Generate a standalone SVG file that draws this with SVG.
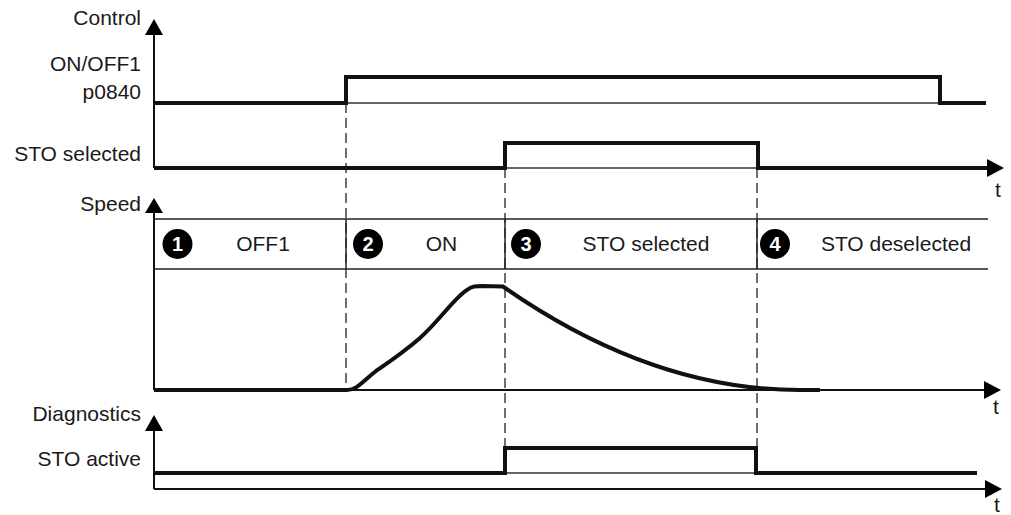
<svg xmlns="http://www.w3.org/2000/svg" width="1011" height="515" viewBox="0 0 1011 515">
<defs>
<style>
text{font-family:"Liberation Sans",Arial,sans-serif;font-size:21px;fill:#1a1a1a}
.lbl{text-anchor:end}
.mid{text-anchor:middle}
.num{font-weight:bold;fill:#fff;font-size:20px;text-anchor:middle}
.sig{fill:none;stroke:#111;stroke-width:4;stroke-linejoin:miter}
.axis{fill:none;stroke:#111;stroke-width:2}
.thin{fill:none;stroke:#333;stroke-width:1.5}
.dash{fill:none;stroke:#222;stroke-width:1.3;stroke-dasharray:10 5}
.band{fill:none;stroke:#222;stroke-width:1.5}
.arr{fill:#000}
</style>
</defs>
<rect width="1011" height="515" fill="#fff"/>
<g id="connectors">
<line class="dash" x1="346" y1="103" x2="346" y2="390"/>
<line class="dash" x1="505" y1="168" x2="505" y2="448"/>
<line class="dash" x1="757" y1="168" x2="757" y2="448"/>
</g>
<g id="control">
<text class="lbl" x="141" y="25">Control</text>
<text class="lbl" x="141" y="71">ON/OFF1</text>
<text class="lbl" x="141" y="99">p0840</text>
<text class="lbl" x="141" y="161">STO selected</text>
<line class="axis" x1="154" y1="30" x2="154" y2="168"/>
<polygon class="arr" points="154,19 163,35 145,35"/>
<line class="thin" x1="346" y1="103" x2="940" y2="103"/>
<polyline class="sig" points="154,103 346,103 346,77 940,77 940,103 986,103"/>
<line class="thin" x1="505" y1="168" x2="758" y2="168"/>
<polyline class="sig" points="154,168 505,168 505,143 758,143 758,168 992,168"/>
<polygon class="arr" points="1004,168 987,159 987,177"/>
<text x="995" y="197">t</text>
</g>
<g id="speed">
<text class="lbl" x="141" y="211">Speed</text>
<line class="axis" x1="154" y1="208" x2="154" y2="390"/>
<polygon class="arr" points="154,198 163,213 145,213"/>
<line class="band" x1="154" y1="219" x2="988" y2="219"/>
<line class="band" x1="154" y1="269" x2="988" y2="269"/>
<line class="band" x1="346" y1="219" x2="346" y2="269"/>
<line class="band" x1="505" y1="219" x2="505" y2="269"/>
<line class="band" x1="757" y1="219" x2="757" y2="269"/>
<line class="axis" x1="154" y1="390" x2="990" y2="390"/>
<path class="sig" d="M154,390 L347,390 C357,390 362,382 376,371 C392,360 404,352 420,338 C440,320 456,296 467,290 C472,286 476,286 482,286 L503,286.5 Q651,390 800,390 L820,390"/>
<polygon class="arr" points="1001,390 984,381 984,399"/>
<text x="993" y="414">t</text>
</g>
<g id="phase1">
<circle cx="177.5" cy="244" r="15" fill="#000"/>
<text class="num" x="177.5" y="251">1</text>
<text class="mid" x="263" y="251">OFF1</text>
</g>
<g id="phase2">
<circle cx="368" cy="244" r="15" fill="#000"/>
<text class="num" x="368" y="251">2</text>
<text class="mid" x="441.5" y="251">ON</text>
</g>
<g id="phase3">
<circle cx="526" cy="244" r="15" fill="#000"/>
<text class="num" x="526" y="251">3</text>
<text class="mid" x="646" y="251">STO selected</text>
</g>
<g id="phase4">
<circle cx="775" cy="244" r="15" fill="#000"/>
<text class="num" x="775" y="251">4</text>
<text class="mid" x="896" y="251">STO deselected</text>
</g>
<g id="diagnostics">
<text class="lbl" x="141" y="421">Diagnostics</text>
<text class="lbl" x="141" y="466">STO active</text>
<line class="axis" x1="154" y1="425" x2="154" y2="489"/>
<polygon class="arr" points="154,415 163,431 145,431"/>
<line class="thin" x1="505" y1="473" x2="756" y2="473"/>
<polyline class="sig" points="154,473 505,473 505,448 756,448 756,473 977,473"/>
<line class="axis" x1="154" y1="489" x2="990" y2="489"/>
<polygon class="arr" points="1002,489 985,480 985,498"/>
<text x="994" y="512">t</text>
</g>
</svg>
